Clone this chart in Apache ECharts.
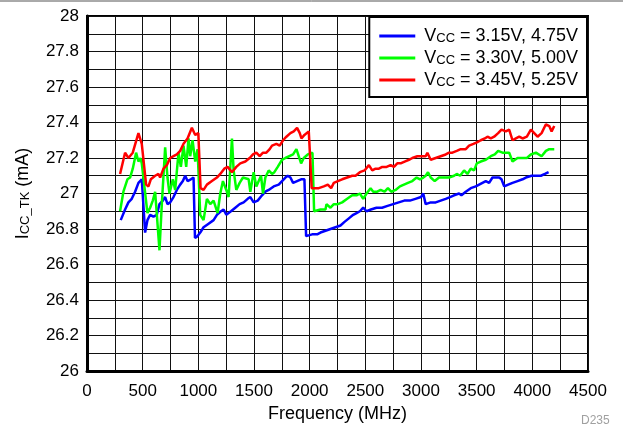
<!DOCTYPE html>
<html>
  <head>
    <meta charset="utf-8">
    <title>ICC_TK vs Frequency</title>
    <script src="https://cdn.jsdelivr.net/npm/echarts@6/dist/echarts.min.js"></script>
  </head>
  <body style="margin: 0; background: #fff">
    <div id="container" style="width: 623px; height: 430px"></div>
    <script type="text/javascript">
      // Vcc = 3.15V, 4.75V
      var freqBlue = [303, 342, 372, 402, 432, 462, 492, 522, 543, 567, 597, 627, 651, 681, 702, 723, 747, 777, 807, 837, 861, 882, 903, 933, 957, 970, 993, 1017, 1047, 1062, 1092, 1137, 1167, 1203, 1227, 1251, 1293, 1332, 1371, 1407, 1443, 1467, 1497, 1533, 1572, 1602, 1632, 1677, 1722, 1752, 1782, 1803, 1827, 1851, 1887, 1923, 1953, 1968, 2022, 2067, 2097, 2142, 2187, 2232, 2277, 2313, 2352, 2391, 2421, 2451, 2481, 2511, 2550, 2600, 2650, 2700, 2750, 2800, 2850, 2900, 2950, 3000, 3020, 3042, 3087, 3132, 3177, 3222, 3261, 3297, 3342, 3363, 3402, 3447, 3492, 3522, 3552, 3582, 3612, 3642, 3672, 3702, 3723, 3747, 3783, 3822, 3867, 3912, 3942, 3993, 4032, 4077, 4113, 4146];
      var iccBlue = [26.85, 26.91, 26.95, 26.97, 27.01, 27.06, 27.08, 26.78, 26.85, 26.88, 26.87, 26.88, 26.94, 26.96, 26.98, 26.94, 26.95, 26.98, 27.02, 27.05, 27.07, 27.10, 27.07, 27.08, 27.09, 26.75, 26.76, 26.78, 26.81, 26.80, 26.83, 26.85, 26.88, 26.90, 26.91, 26.88, 26.90, 26.92, 26.94, 26.95, 26.97, 26.98, 26.95, 26.96, 26.99, 27.01, 27.02, 27.04, 27.05, 27.07, 27.09, 27.10, 27.09, 27.06, 27.07, 27.08, 27.08, 26.76, 26.77, 26.77, 26.78, 26.79, 26.80, 26.81, 26.82, 26.84, 26.86, 26.88, 26.89, 26.90, 26.92, 26.90, 26.91, 26.92, 26.92, 26.93, 26.94, 26.95, 26.96, 26.96, 26.97, 26.98, 27.00, 26.94, 26.95, 26.95, 26.96, 26.97, 26.98, 26.99, 27.00, 26.99, 27.01, 27.03, 27.04, 27.05, 27.06, 27.07, 27.06, 27.09, 27.09, 27.09, 27.08, 27.04, 27.05, 27.06, 27.07, 27.08, 27.09, 27.10, 27.10, 27.10, 27.11, 27.12];

      // Vcc = 3.30V, 5.00V
      var freqGreen = [297, 327, 363, 387, 411, 441, 462, 480, 492, 543, 567, 591, 612, 651, 672, 702, 723, 741, 771, 792, 822, 843, 867, 891, 912, 927, 948, 972, 993, 1017, 1047, 1077, 1107, 1137, 1173, 1197, 1221, 1251, 1272, 1302, 1317, 1341, 1371, 1401, 1452, 1467, 1497, 1521, 1563, 1581, 1602, 1632, 1662, 1683, 1713, 1752, 1782, 1851, 1881, 1923, 1947, 1983, 2025, 2040, 2097, 2142, 2151, 2187, 2217, 2253, 2292, 2337, 2382, 2421, 2451, 2481, 2511, 2547, 2571, 2607, 2637, 2673, 2703, 2733, 2772, 2811, 2847, 2883, 2922, 2961, 2991, 3021, 3042, 3063, 3087, 3123, 3162, 3207, 3252, 3297, 3321, 3351, 3387, 3417, 3447, 3477, 3501, 3537, 3582, 3627, 3663, 3693, 3732, 3792, 3822, 3867, 3912, 3951, 3987, 4032, 4083, 4122, 4152, 4197];
      var iccGreen = [26.90, 27.01, 27.08, 27.09, 27.14, 27.23, 27.18, 27.20, 27.17, 26.89, 26.92, 26.96, 27.01, 26.68, 26.94, 27.26, 27.09, 27.00, 27.08, 27.02, 27.23, 27.15, 27.27, 27.15, 27.31, 27.21, 27.30, 27.18, 27.25, 26.88, 26.85, 26.97, 26.94, 26.96, 26.89, 27.00, 27.07, 27.02, 26.98, 27.31, 27.13, 27.02, 27.06, 27.09, 27.08, 27.01, 27.12, 27.04, 27.10, 27.00, 27.09, 27.13, 27.11, 27.12, 27.15, 27.19, 27.20, 27.22, 27.25, 27.17, 27.20, 27.22, 27.23, 26.90, 26.91, 26.91, 26.94, 26.92, 26.94, 26.94, 26.95, 26.97, 26.99, 26.99, 27.00, 26.97, 27.00, 27.03, 27.01, 27.01, 27.02, 27.01, 27.03, 27.01, 27.02, 27.04, 27.05, 27.06, 27.07, 27.09, 27.08, 27.09, 27.10, 27.12, 27.09, 27.07, 27.09, 27.09, 27.09, 27.10, 27.11, 27.10, 27.13, 27.11, 27.14, 27.13, 27.17, 27.18, 27.19, 27.21, 27.22, 27.24, 27.23, 27.23, 27.18, 27.20, 27.20, 27.20, 27.22, 27.23, 27.21, 27.24, 27.25, 27.25];

      // Vcc = 3.45V, 5.25V
      var freqRed = [297, 342, 372, 411, 462, 492, 531, 552, 573, 612, 642, 657, 687, 717, 747, 777, 807, 837, 867, 903, 942, 972, 1000, 1020, 1047, 1077, 1122, 1167, 1197, 1233, 1263, 1302, 1341, 1377, 1422, 1461, 1491, 1521, 1551, 1581, 1611, 1641, 1662, 1701, 1731, 1761, 1791, 1827, 1857, 1887, 1911, 1926, 1953, 1992, 2005, 2018, 2052, 2082, 2127, 2163, 2193, 2217, 2253, 2292, 2337, 2382, 2412, 2451, 2493, 2532, 2562, 2592, 2622, 2652, 2691, 2727, 2757, 2787, 2817, 2853, 2892, 2922, 2967, 3003, 3042, 3057, 3087, 3132, 3177, 3222, 3252, 3282, 3321, 3357, 3402, 3432, 3471, 3507, 3537, 3573, 3597, 3627, 3657, 3693, 3723, 3762, 3792, 3822, 3852, 3882, 3912, 3951, 3987, 4017, 4047, 4083, 4122, 4152, 4173, 4197];
      var iccRed = [27.11, 27.23, 27.20, 27.23, 27.34, 27.28, 27.05, 27.04, 27.08, 27.10, 27.11, 27.09, 27.14, 27.16, 27.20, 27.21, 27.22, 27.24, 27.28, 27.31, 27.37, 27.33, 27.34, 27.03, 27.02, 27.05, 27.07, 27.09, 27.11, 27.14, 27.15, 27.12, 27.15, 27.17, 27.18, 27.20, 27.22, 27.23, 27.21, 27.23, 27.23, 27.25, 27.27, 27.28, 27.27, 27.30, 27.32, 27.34, 27.35, 27.37, 27.34, 27.31, 27.33, 27.35, 27.35, 27.03, 27.03, 27.03, 27.04, 27.05, 27.03, 27.06, 27.07, 27.08, 27.09, 27.10, 27.10, 27.12, 27.13, 27.16, 27.13, 27.14, 27.14, 27.15, 27.15, 27.16, 27.15, 27.17, 27.17, 27.18, 27.19, 27.20, 27.21, 27.21, 27.21, 27.23, 27.19, 27.20, 27.21, 27.22, 27.23, 27.23, 27.24, 27.25, 27.25, 27.27, 27.28, 27.29, 27.30, 27.31, 27.32, 27.31, 27.32, 27.34, 27.36, 27.35, 27.36, 27.30, 27.31, 27.32, 27.31, 27.32, 27.36, 27.34, 27.32, 27.34, 27.39, 27.38, 27.35, 27.38];

      var seriesNames = ['3.15V, 4.75V', '3.30V, 5.00V', '3.45V, 5.25V'];
      var seriesColors = ['#0000ff', '#00ff00', '#ff0000'];
      var xTicks = [0, 4500, 500];
      var yTicks = [26, 28, 0.2];

      var font = 'Arial, "Liberation Sans", sans-serif';

      function zip(xs, ys) {
        return xs.map(function (x, i) { return [x, ys[i]]; });
      }
      var allData = [zip(freqBlue, iccBlue), zip(freqGreen, iccGreen), zip(freqRed, iccRed)];

      var dom = document.getElementById('container');
      var myChart = echarts.init(dom, null, {renderer: 'canvas'});

      var gridLine = {show: true, lineStyle: {color: '#111', width: 1}};

      var option = {
        animation: false,
        textStyle: {fontFamily: font},
        grid: {
          left: 87, right: 35, top: 16, bottom: 59,
          show: true, borderColor: '#000', borderWidth: 2, backgroundColor: '#fff'
        },
        legend: {
          orient: 'vertical',
          right: 36, top: 17,
          backgroundColor: '#fff',
          borderColor: '#000',
          borderWidth: 2,
          borderRadius: 0,
          padding: [9, 9, 8, 10],
          itemGap: 3,
          itemWidth: 36,
          itemHeight: 3,
          icon: 'rect',
          data: seriesNames,
          formatter: function (name) {
            return '{v|V}{s|CC}{v| = ' + name + '}';
          },
          textStyle: {
            padding: [0, 0, 0, 4],
            rich: {
              v: {fontSize: 18, color: '#000', fontFamily: font, lineHeight: 18},
              s: {fontSize: 13, color: '#000', fontFamily: font, lineHeight: 18, verticalAlign: 'bottom', padding: [6, 0, 0, 0]}
            }
          }
        },
        xAxis: {
          type: 'value',
          min: xTicks[0], max: xTicks[1], interval: xTicks[2],
          name: 'Frequency (MHz)',
          nameLocation: 'middle',
          nameGap: 30,
          nameTextStyle: {fontSize: 18, color: '#000', fontFamily: font},
          axisLine: {show: true, onZero: false, lineStyle: {color: '#000', width: 3}},
          axisTick: {show: false},
          minorTick: {show: false, splitNumber: 2},
          axisLabel: {
            fontSize: 17, color: '#000', margin: 12, fontFamily: font,
            formatter: function (v) { return String(v); }
          },
          splitLine: gridLine,
          minorSplitLine: gridLine
        },
        yAxis: {
          type: 'value',
          min: yTicks[0], max: yTicks[1], interval: yTicks[2],
          name: '{v|I}{s|CC_TK}{v| (mA)}',
          nameLocation: 'middle',
          nameGap: 55,
          nameRotate: 90,
          nameTextStyle: {
            rich: {
              v: {fontSize: 18, color: '#000', fontFamily: font, lineHeight: 18},
              s: {fontSize: 13, color: '#000', fontFamily: font, lineHeight: 18, verticalAlign: 'bottom', padding: [6, 0, 0, 0]}
            }
          },
          axisLine: {show: true, onZero: false, lineStyle: {color: '#000', width: 3}},
          axisTick: {show: false},
          minorTick: {show: false, splitNumber: 2},
          axisLabel: {
            fontSize: 17, color: '#000', margin: 8, fontFamily: font,
            formatter: function (v) { return Math.round(v * 10) / 10 + ''; }
          },
          splitLine: gridLine,
          minorSplitLine: gridLine
        },
        graphic: [
          {type: 'line', shape: {x1: 0, y1: 1, x2: 623, y2: 1}, style: {stroke: '#555', lineWidth: 1}},
          {type: 'text', left: 581, top: 415, style: {text: 'D235', fill: '#a0a0a0', fontSize: 12, fontFamily: font}}
        ],
        series: seriesNames.map(function (name, i) {
          return {
            name: name,
            type: 'line',
            showSymbol: false,
            symbol: 'none',
            color: seriesColors[i],
            lineStyle: {color: seriesColors[i], width: 2.5},
            data: allData[i]
          };
        })
      };

      myChart.setOption(option);
    </script>
  </body>
</html>
